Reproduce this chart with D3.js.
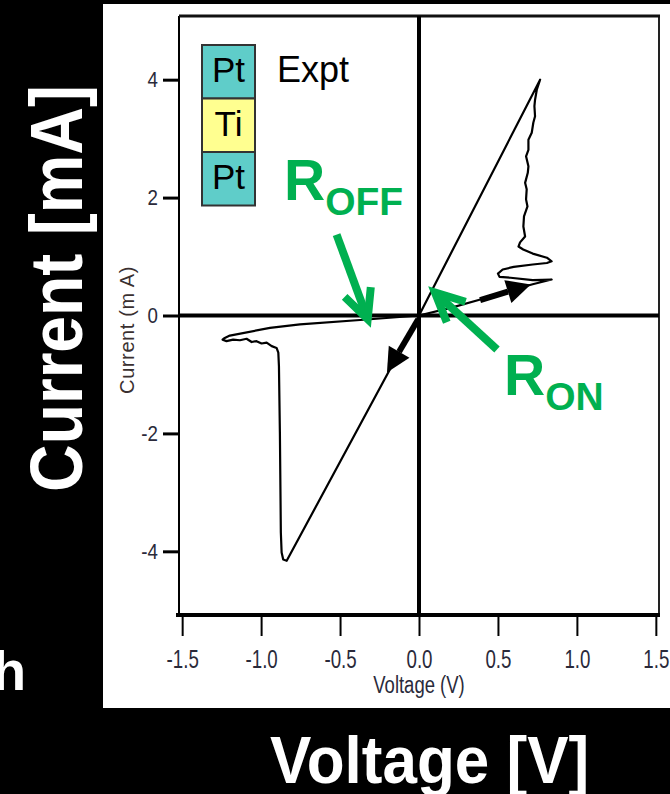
<!DOCTYPE html>
<html>
<head>
<meta charset="utf-8">
<script src="https://cdn.jsdelivr.net/npm/d3@7"></script>
<style>
  html, body { margin: 0; padding: 0; background: #000; }
  svg { display: block; }
</style>
</head>
<body>
<svg width="670" height="794"></svg>
<script>
// I-V sweep (V in volts, I in mA)
const voltage = [0, 0.2, 0.4, 0.6, 0.72, 0.84, 0.72, 0.58, 0.51, 0.50, 0.53, 0.60, 0.72, 0.81, 0.84, 0.81, 0.72, 0.66, 0.63, 0.64,
  0.672, 0.661, 0.665, 0.687, 0.678, 0.682, 0.672, 0.689, 0.693, 0.678, 0.693, 0.693, 0.714, 0.724, 0.735, 0.731, 0.735, 0.746, 0.767,
  0, -0.838, -0.86, -0.87, -0.875, -0.881, -0.887, -0.891, -0.902, -0.933, -0.965, -0.997, -1.029, -1.06, -1.092, -1.134, -1.177,
  -1.219, -1.244, -1.23, -1.198, -0.944, -0.754, -0.33, 0]
const current = [0, 0.13, 0.28, 0.44, 0.53, 0.61, 0.60, 0.64, 0.655, 0.71, 0.78, 0.825, 0.865, 0.89, 0.92, 0.98, 1.05, 1.12, 1.17, 1.24,
  1.34, 1.51, 1.68, 1.85, 1.97, 2.14, 2.25, 2.42, 2.53, 2.70, 2.81, 2.98, 3.10, 3.27, 3.38, 3.55, 3.66, 3.83, 4.0,
  0, -4.16, -4.14, -4.02, -3.68, -1.99, -0.86, -0.63, -0.55, -0.52, -0.46, -0.475, -0.435, -0.45, -0.395, -0.42, -0.41,
  -0.435, -0.41, -0.38, -0.34, -0.21, -0.15, -0.068, 0]

const xTicks = [-1.5, -1.0, -0.5, 0, 0.5, 1.0, 1.5]
const yTicks = [-4, -2, 0, 2, 4]
const stack = ['Pt', 'Ti', 'Pt']

let svg = d3.select('svg')
let green = '#00b050'
let sans = '"Liberation Sans", Arial, sans-serif'

let x = d3.scaleLinear().domain([-1.52, 1.52]).range([179, 659])
let y = d3.scaleLinear().domain([-5.08, 5.08]).range([615, 16])

// plain hyphen instead of the unicode minus d3 uses
function fmt(f) {
  return function (d) { return d3.format(f)(d).replace('\u2212', '-') }
}

// white panel
svg.append('rect').attr('x', 103).attr('y', 4).attr('width', 567).attr('height', 704).attr('fill', '#fff')

// axes
let xAxis = svg.append('g')
  .attr('transform', 'translate(0,615)')
  .call(d3.axisBottom(x).tickValues(xTicks).tickFormat(fmt('.1f')).tickSize(21).tickPadding(14))
xAxis.select('.domain').remove()
xAxis.selectAll('line').attr('stroke', '#000').attr('stroke-width', 2)
// condensed look
xAxis.selectAll('text').attr('font-family', sans).attr('font-size', 26).attr('fill', '#2a2a3a')
  .attr('transform', 'scale(0.72,1)')

let yAxis = svg.append('g')
  .attr('transform', 'translate(179,0)')
  .call(d3.axisLeft(y).tickValues(yTicks).tickFormat(fmt('d')).tickSize(16).tickPadding(5))
yAxis.select('.domain').remove()
yAxis.selectAll('line').attr('stroke', '#000').attr('stroke-width', 3)
yAxis.selectAll('text').attr('font-family', sans).attr('font-size', 22).attr('fill', '#2a2a3a')
  .attr('x', 0).attr('transform', 'translate(-21,0) scale(0.85,1)')

// frame and zero lines
let x0 = x.range()[0], x1 = x.range()[1], yb = y.range()[0], yt = y.range()[1]
svg.append('line').attr('x1', x0).attr('x2', x0).attr('y1', yt).attr('y2', yb).attr('stroke', '#000').attr('stroke-width', 2)
svg.append('line').attr('x1', x1).attr('x2', x1).attr('y1', yt).attr('y2', yb).attr('stroke', '#222').attr('stroke-width', 2)
svg.append('line').attr('x1', x0).attr('x2', x1 + 1).attr('y1', yt).attr('y2', yt).attr('stroke', '#111').attr('stroke-width', 3)
svg.append('line').attr('x1', x0 - 3).attr('x2', x1 + 1).attr('y1', yb).attr('y2', yb).attr('stroke', '#000').attr('stroke-width', 4)
svg.append('line').attr('x1', x(0)).attr('x2', x(0)).attr('y1', yt).attr('y2', yb).attr('stroke', '#000').attr('stroke-width', 4)
svg.append('line').attr('x1', x0).attr('x2', x1).attr('y1', y(0)).attr('y2', y(0)).attr('stroke', '#000').attr('stroke-width', 4)

// curve
let line = d3.line().x(function (d) { return x(d[0]) }).y(function (d) { return y(d[1]) })
svg.append('path')
  .datum(d3.zip(voltage, current))
  .attr('d', line)
  .attr('fill', 'none')
  .attr('stroke', '#000')
  .attr('stroke-width', 2.2)
  .attr('stroke-linejoin', 'round')

// small axis titles
svg.append('text').attr('transform', 'translate(' + x(0) + ',693) scale(0.77,1)').attr('text-anchor', 'middle')
  .attr('font-family', sans).attr('font-size', 24).attr('fill', '#2a2a3a').text('Voltage (V)')
svg.append('text').attr('transform', 'translate(134,330) rotate(-90)').attr('text-anchor', 'middle')
  .attr('font-family', sans).attr('font-size', 20).attr('letter-spacing', 0.6).attr('fill', '#3a3030').text('Current (m A)')

// legend stack
let cell = svg.selectAll('.cell').data(stack).enter().append('g').attr('class', 'cell')
  .attr('transform', function (d, i) { return 'translate(202,' + (45 + i * 53.5) + ')' })
cell.append('rect').attr('width', 53).attr('height', 53.5)
  .attr('fill', function (d) { return d == 'Pt' ? '#5fcdc9' : '#ffff90' })
  .attr('stroke', '#333').attr('stroke-width', 2)
cell.append('text').attr('x', 26.5).attr('y', 37).attr('text-anchor', 'middle')
  .attr('font-family', sans).attr('font-size', 35).attr('fill', '#000').text(function (d) { return d })
svg.append('text').attr('x', 277).attr('y', 82).attr('font-family', sans).attr('font-size', 36).attr('fill', '#000').text('Expt')

// green annotations, positions in data units
function greenArrow(from, to) {
  let ax = x(from[0]), ay = y(from[1]), bx = x(to[0]), by = y(to[1])
  let ang = Math.atan2(by - ay, bx - ax), L = 32, w = 0.45
  let l1 = [bx - L * Math.cos(ang - w), by - L * Math.sin(ang - w)]
  let l2 = [bx - L * Math.cos(ang + w), by - L * Math.sin(ang + w)]
  svg.append('line').attr('x1', ax).attr('y1', ay).attr('x2', bx - 4 * Math.cos(ang)).attr('y2', by - 4 * Math.sin(ang))
    .attr('stroke', green).attr('stroke-width', 8)
  svg.append('polyline').attr('points', [l1, [bx, by], l2].map(function (p) { return p.join(',') }).join(' '))
    .attr('fill', 'none').attr('stroke', green).attr('stroke-width', 8).attr('stroke-linejoin', 'miter')
}
function blackArrow(from, to) {
  let ax = x(from[0]), ay = y(from[1]), bx = x(to[0]), by = y(to[1])
  let ang = Math.atan2(by - ay, bx - ax), L = 24, hw = 12
  let mx = bx - L * Math.cos(ang), my = by - L * Math.sin(ang)
  svg.append('line').attr('x1', ax).attr('y1', ay).attr('x2', mx).attr('y2', my).attr('stroke', '#000').attr('stroke-width', 6)
  svg.append('polygon').attr('fill', '#000').attr('points', [
    [bx, by],
    [mx + hw * Math.sin(ang), my - hw * Math.cos(ang)],
    [mx - hw * Math.sin(ang), my + hw * Math.cos(ang)]
  ].map(function (p) { return p.join(',') }).join(' '))
}

greenArrow([-0.522, 1.373], [-0.325, -0.06])
greenArrow([0.494, -0.576], [0.101, 0.39])
blackArrow([-0.006, -0.068], [-0.203, -0.966])
blackArrow([0.387, 0.26], [0.708, 0.525])

function rLabel(px, py, sub) {
  let t = svg.append('text').attr('x', px).attr('y', py).attr('font-family', sans).attr('font-weight', 'bold').attr('fill', green)
  t.append('tspan').attr('font-size', 57).text('R')
  t.append('tspan').attr('font-size', 39).attr('dy', 15).text(sub)
}
rLabel(284, 200, 'OFF')
rLabel(504, 395, 'ON')

// big outer labels
svg.append('text').attr('transform', 'translate(270,783) scale(1,1.08)')
  .attr('font-family', sans).attr('font-weight', 'bold').attr('font-size', 62).attr('fill', '#fff').text('Voltage [V]')
svg.append('text').attr('transform', 'translate(82,492) rotate(-90) scale(1,1.12)')
  .attr('font-family', sans).attr('font-weight', 'bold').attr('font-size', 66).attr('fill', '#fff').text('Current [mA]')
svg.append('text').attr('x', 26).attr('y', 690).attr('text-anchor', 'end')
  .attr('font-family', sans).attr('font-weight', 'bold').attr('font-size', 55).attr('fill', '#fff').text('h')
</script>
</body>
</html>
